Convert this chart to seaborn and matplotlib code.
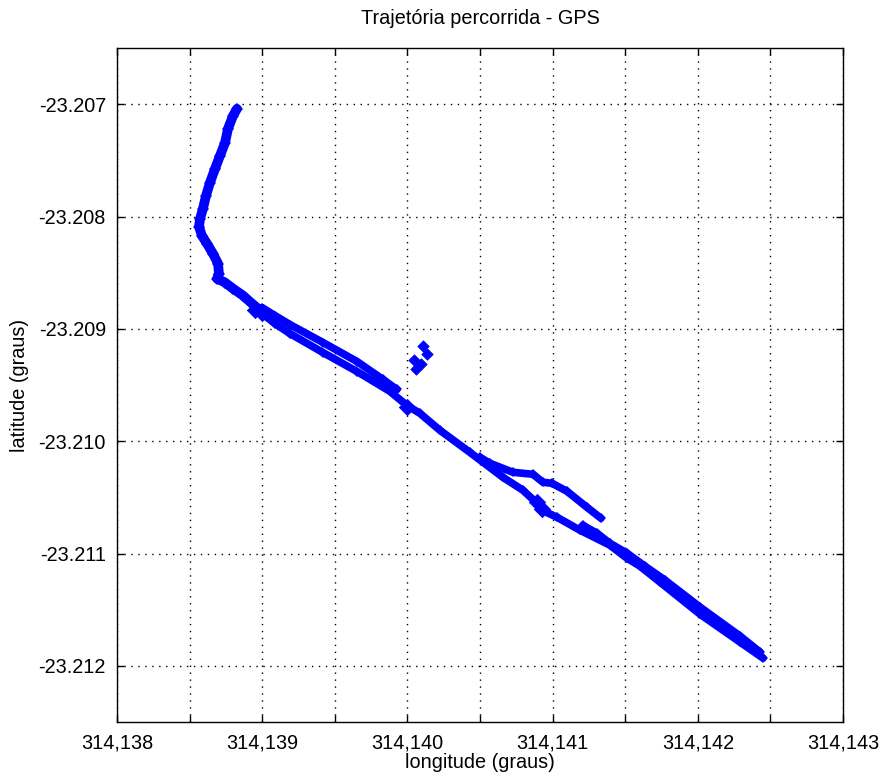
import pandas as pd
import seaborn as sns
from matplotlib import pyplot as plt

# trecho norte (subida / descida)
lon_norte = [314.138826, 314.138799, 314.138764, 314.138744, 314.138709, 314.138675,
             314.138640, 314.138613, 314.138592, 314.138572, 314.138565, 314.138585,
             314.138620, 314.138661, 314.138696, 314.138702, 314.138689, 314.138744,
             314.138799, 314.138868, 314.138930, 314.138971, 314.138999]
lat_norte = [-23.207042, -23.207104, -23.207220, -23.207344, -23.207460, -23.207575,
             -23.207700, -23.207815, -23.207931, -23.208020, -23.208091, -23.208171,
             -23.208242, -23.208331, -23.208420, -23.208508, -23.208553, -23.208588,
             -23.208642, -23.208704, -23.208775, -23.208820, -23.208837]

# faixa de cima, depois do cruzamento
lon_faixa1 = [314.138999, 314.139088, 314.139191, 314.139419, 314.139653, 314.139832, 314.139928]
lat_faixa1 = [-23.208811, -23.208882, -23.208962, -23.209122, -23.209291, -23.209451, -23.209540]

# faixa de baixo ate o fim
lon_faixa2 = [314.138999, 314.139088, 314.139191, 314.139419, 314.139653, 314.139880,
              314.139997, 314.140087, 314.140225, 314.140431, 314.140658, 314.140796,
              314.140893, 314.140927, 314.141030, 314.141189, 314.141395, 314.141512,
              314.141602, 314.141740, 314.142015, 314.142291, 314.142449]
lat_faixa2 = [-23.208864, -23.208953, -23.209042, -23.209211, -23.209380, -23.209557,
              -23.209682, -23.209753, -23.209904, -23.210100, -23.210322, -23.210437,
              -23.210553, -23.210615, -23.210677, -23.210793, -23.210926, -23.211042,
              -23.211113, -23.211255, -23.211540, -23.211789, -23.211931]

# desvio (ramo de cima)
lon_desvio = [314.140500, 314.140569, 314.140727, 314.140865, 314.140934, 314.140996,
              314.141099, 314.141237, 314.141333]
lat_desvio = [-23.210144, -23.210197, -23.210277, -23.210295, -23.210366, -23.210375,
              -23.210446, -23.210589, -23.210686]

# segunda passagem no trecho final
lon_volta = [314.141209, 314.141306, 314.141395, 314.141512, 314.141636, 314.141774,
             314.142015, 314.142291, 314.142428]
lat_volta = [-23.210749, -23.210820, -23.210909, -23.210997, -23.211113, -23.211237,
             -23.211477, -23.211735, -23.211877]

# pontos soltos e aglomerados
lon_soltos = [314.140105, 314.140048, 314.140133, 314.140092, 314.140059]
lat_soltos = [-23.209149, -23.209276, -23.209222, -23.209311, -23.209362]
lon_blocos = [314.138950, 314.139000, 314.140000, 314.140890, 314.140930]
lat_blocos = [-23.208830, -23.208860, -23.209700, -23.210540, -23.210600]

x_ticks = [314.138, 314.1385, 314.139, 314.1395, 314.140, 314.1405,
           314.141, 314.1415, 314.142, 314.1425, 314.143]
x_labels = ["314,138", "", "314,139", "", "314,140", "",
            "314,141", "", "314,142", "", "314,143"]
y_ticks = [-23.212, -23.211, -23.210, -23.209, -23.208, -23.207]
y_labels = ["-23.212", "-23.211", "-23.210", "-23.209", "-23.208", "-23.207"]

trechos = [("faixa1", lon_faixa1, lat_faixa1), ("faixa2", lon_faixa2, lat_faixa2),
           ("desvio", lon_desvio, lat_desvio), ("volta", lon_volta, lat_volta)]
track = pd.concat([pd.DataFrame({"lon": lo, "lat": la, "trecho": nome})
                   for nome, lo, la in trechos], ignore_index=True)
norte = pd.DataFrame({"lon": lon_norte, "lat": lat_norte})

sns.set_style("white")
plt.rcParams["font.family"] = ["Liberation Sans", "DejaVu Sans"]
plt.rcParams["text.color"] = "black"
plt.rcParams["axes.labelcolor"] = "black"

fig = plt.figure(figsize=(8.82, 7.78), dpi=100)
ax = fig.add_axes([117 / 882, 56 / 778, 726 / 882, 674 / 778])

estilo = dict(color="blue", marker="D", markeredgewidth=0,
              solid_capstyle="round", solid_joinstyle="round")
sns.lineplot(data=norte, x="lon", y="lat", estimator=None, sort=False,
             lw=7, markersize=6, ax=ax, **estilo)
sns.lineplot(data=track, x="lon", y="lat", units="trecho", estimator=None, sort=False,
             lw=5.5, markersize=5, legend=False, ax=ax, **estilo)
sns.scatterplot(x=lon_soltos, y=lat_soltos, marker="D", s=34, color="blue",
                edgecolor="blue", linewidth=0.5, ax=ax)
sns.scatterplot(x=lon_blocos, y=lat_blocos, marker="D", s=70, color="blue",
                edgecolor="blue", linewidth=0.5, ax=ax)

ax.set_xlim(314.138, 314.143)
ax.set_ylim(-23.2125, -23.2065)
ax.set_xticks(x_ticks)
ax.set_xticklabels(x_labels)
ax.set_yticks(y_ticks)
ax.set_yticklabels(y_labels)
ax.tick_params(direction="in", length=5, width=1, top=True, right=True,
               bottom=True, left=True, pad=8, colors="black", labelsize=14.3)
ax.grid(True, color="black", linestyle=(0, (1, 4)), linewidth=1.0)
for s in ax.spines.values():
    s.set_color("black")
    s.set_linewidth(1.0)

ax.set_title("Trajetória percorrida - GPS", pad=17, fontsize=14.3)
ax.set_xlabel("longitude (graus)", labelpad=1, fontsize=14.3)
ax.set_ylabel("latitude (graus)", labelpad=7, fontsize=14.3)

fig.savefig("out.png", dpi=100)
